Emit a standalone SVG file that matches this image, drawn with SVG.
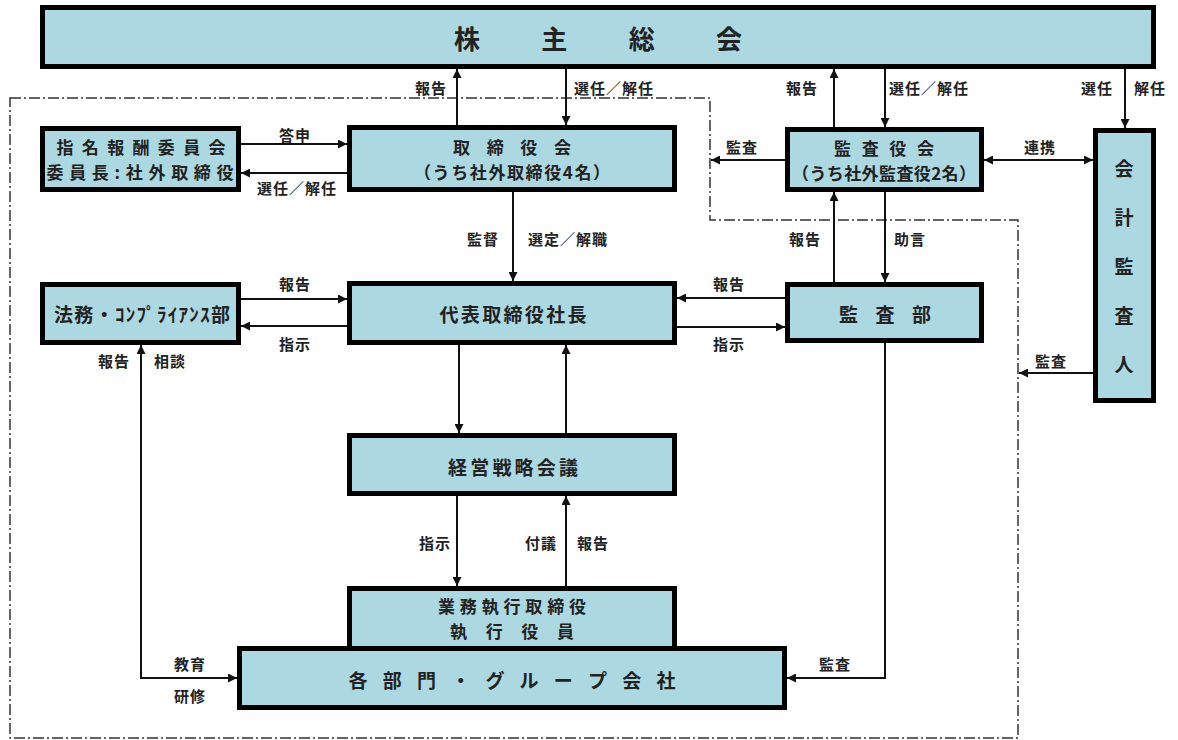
<svg xmlns="http://www.w3.org/2000/svg" width="1178" height="740" viewBox="0 0 1178 740">
<defs>
<marker id="ah" viewBox="0 0 10 10" refX="10" refY="5" markerWidth="9" markerHeight="9" markerUnits="userSpaceOnUse" orient="auto-start-reverse"><path d="M0,0 L10,5 L0,10 z" fill="#111"/></marker>
</defs>
<style>
.box{fill:#acd8e2;stroke:#000;stroke-width:5}
.t{font-family:"Noto Sans CJK JP","Noto Sans CJK SC",sans-serif;font-weight:bold;fill:#222;text-anchor:middle;dominant-baseline:central}
.n{font-size:19px}
.n2{font-size:17px}
.l{font-size:15px;letter-spacing:1px}
.c{fill:none;stroke:#111;stroke-width:2}
.ca{fill:none;stroke:#111;stroke-width:2;marker-end:url(#ah)}
.cb{fill:none;stroke:#111;stroke-width:2;marker-start:url(#ah);marker-end:url(#ah)}
.bd{fill:none;stroke:#333;stroke-width:1.5;stroke-dasharray:11 3 2 3}
</style>
<rect width="1178" height="740" fill="#fff"/>
<path class="bd" d="M10 98 H710 V220 H1018 V738 H10 Z"/>
<g id="connectors">
<line class="ca" x1="457" y1="125" x2="457" y2="69"/>
<line class="ca" x1="566" y1="69" x2="566" y2="125"/>
<line class="ca" x1="834" y1="127" x2="834" y2="69"/>
<line class="ca" x1="885" y1="69" x2="885" y2="127"/>
<line class="ca" x1="1125" y1="69" x2="1125" y2="128"/>
<line class="ca" x1="241" y1="144" x2="347" y2="144"/>
<line class="ca" x1="347" y1="173" x2="241" y2="173"/>
<line class="ca" x1="785" y1="160" x2="711" y2="160"/>
<line class="cb" x1="984" y1="160" x2="1093" y2="160"/>
<line class="ca" x1="513" y1="192" x2="513" y2="281"/>
<line class="ca" x1="834" y1="282" x2="834" y2="192"/>
<line class="ca" x1="885" y1="192" x2="885" y2="282"/>
<line class="ca" x1="241" y1="299" x2="347" y2="299"/>
<line class="ca" x1="347" y1="326" x2="241" y2="326"/>
<line class="ca" x1="785" y1="298" x2="677" y2="298"/>
<line class="ca" x1="677" y1="327" x2="785" y2="327"/>
<line class="ca" x1="459" y1="345" x2="459" y2="433"/>
<line class="ca" x1="566" y1="433" x2="566" y2="345"/>
<line class="ca" x1="457" y1="496" x2="457" y2="586"/>
<line class="ca" x1="566" y1="586" x2="566" y2="496"/>
<path class="cb" d="M141 345 V678 H237"/>
<path class="ca" d="M885 343 V678 H787"/>
<line class="ca" x1="1093" y1="373" x2="1019" y2="373"/>
</g>
<g id="n-shareholders">
<rect class="box" x="42.5" y="7.5" width="1111" height="59"/>
<text class="t" x="598" y="37" font-size="26" textLength="288" lengthAdjust="spacing">株 主 総 会</text>
</g>
<g id="n-nomination">
<rect class="box" x="42.5" y="128.5" width="196" height="61"/>
<text class="t n2" x="141" y="146" textLength="169" lengthAdjust="spacing">指名報酬委員会</text>
<text class="t n2" x="140" y="171" textLength="187" lengthAdjust="spacing">委員長:社外取締役</text>
</g>
<g id="n-board">
<rect class="box" x="349.5" y="127.5" width="325" height="62"/>
<text class="t n2" x="512" y="146" textLength="118" lengthAdjust="spacing">取 締 役 会</text>
<text class="t n2" x="512" y="171" textLength="196" lengthAdjust="spacing">（うち社外取締役4名）</text>
</g>
<g id="n-auditboard">
<rect class="box" x="787.5" y="129.5" width="194" height="60"/>
<text class="t n2" x="884" y="147" textLength="100" lengthAdjust="spacing">監 査 役 会</text>
<text class="t n2" x="884" y="172" textLength="184" lengthAdjust="spacing">（うち社外監査役2名）</text>
</g>
<g id="n-accountant">
<rect class="box" x="1095.5" y="130.5" width="58" height="270"/>
<text class="t n" x="1124 1124 1124 1124 1124" y="167 216 265 314 363">会計監査人</text>
</g>
<g id="n-legal">
<rect class="box" x="42.5" y="284.5" width="196" height="58"/>
<text class="t n" x="142" y="313" textLength="176" lengthAdjust="spacing">法務・ｺﾝﾌﾟﾗｲｱﾝｽ部</text>
</g>
<g id="n-president">
<rect class="box" x="349.5" y="283.5" width="325" height="59"/>
<text class="t n" x="513" y="313" textLength="147" lengthAdjust="spacing">代表取締役社長</text>
</g>
<g id="n-auditdept">
<rect class="box" x="787.5" y="284.5" width="194" height="56"/>
<text class="t n" x="885" y="313" textLength="92" lengthAdjust="spacing">監 査 部</text>
</g>
<g id="n-strategy">
<rect class="box" x="349.5" y="435.5" width="325" height="58"/>
<text class="t n" x="513" y="466" textLength="130" lengthAdjust="spacing">経営戦略会議</text>
</g>
<g id="n-executives">
<rect class="box" x="349.5" y="588.5" width="325" height="60"/>
<text class="t n2" x="512" y="605" textLength="148" lengthAdjust="spacing">業務執行取締役</text>
<text class="t n2" x="512" y="630" textLength="124" lengthAdjust="spacing">執 行 役 員</text>
</g>
<g id="n-divisions">
<rect class="box" x="239.5" y="648.5" width="545" height="59"/>
<text class="t n" x="512" y="679" textLength="327" lengthAdjust="spacing">各 部 門 ・ グ ル ー プ 会 社</text>
</g>
<g id="labels">
<text class="t l" x="431" y="87">報告</text>
<text class="t l" x="574" y="87" style="text-anchor:start">選任／解任</text>
<text class="t l" x="802" y="87">報告</text>
<text class="t l" x="889" y="87" style="text-anchor:start">選任／解任</text>
<text class="t l" x="1097" y="87">選任</text>
<text class="t l" x="1150" y="87">解任</text>
<text class="t l" x="295" y="134">答申</text>
<text class="t l" x="297" y="187">選任／解任</text>
<text class="t l" x="742" y="146">監査</text>
<text class="t l" x="1040" y="146">連携</text>
<text class="t l" x="483" y="238">監督</text>
<text class="t l" x="528" y="238" style="text-anchor:start">選定／解職</text>
<text class="t l" x="805" y="238">報告</text>
<text class="t l" x="910" y="238">助言</text>
<text class="t l" x="295" y="283">報告</text>
<text class="t l" x="295" y="343">指示</text>
<text class="t l" x="729" y="283">報告</text>
<text class="t l" x="729" y="343">指示</text>
<text class="t l" x="114" y="360">報告</text>
<text class="t l" x="170" y="360">相談</text>
<text class="t l" x="1051" y="360">監査</text>
<text class="t l" x="435" y="542">指示</text>
<text class="t l" x="541" y="542">付議</text>
<text class="t l" x="593" y="542">報告</text>
<text class="t l" x="190" y="663">教育</text>
<text class="t l" x="190" y="695">研修</text>
<text class="t l" x="835" y="663">監査</text>
</g>
</svg>
